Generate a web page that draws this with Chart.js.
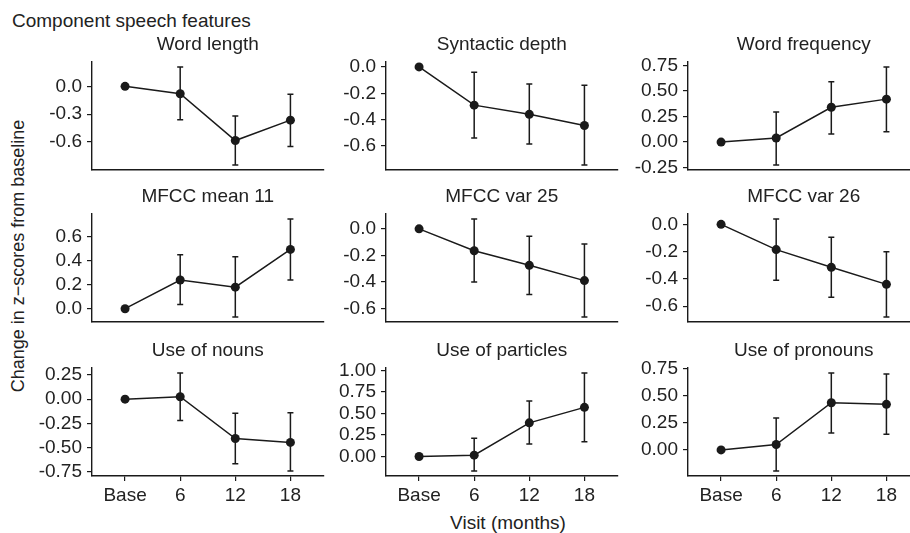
<!DOCTYPE html>
<html>
<head>
<meta charset="utf-8">
<script src="https://cdn.jsdelivr.net/npm/chart.js@4.4.1/dist/chart.umd.min.js"></script>
<style>
  html, body { margin: 0; padding: 0; background: #fff; }
  body { width: 910px; height: 533px; position: relative; overflow: hidden;
         font-family: 'Liberation Sans', Arial, sans-serif; color: #222; }
  canvas { position: absolute; }
  .lbl { position: absolute; font-size: 19px; line-height: 1; white-space: nowrap; }
</style>
</head>
<body>
<div class="lbl" style="left:12px; top:11px">Component speech features</div>
<div class="lbl" style="left:18px; top:256px; font-size:18px; transform: translate(-50%,-50%) rotate(-90deg)">Change in z−scores from baseline</div>
<div class="lbl" style="left:508px; top:522px; transform: translate(-50%,-50%)">Visit (months)</div>

<script>
// visits on the x axis
const visits = ['Base', '6', '12', '18'];

// Word length
const wordLengthMean = [0, -0.08, -0.585, -0.365];
const wordLengthLo = [null, -0.36, -0.85, -0.65];
const wordLengthHi = [null, 0.21, -0.32, -0.085];
const wordLengthTicks = ['0.0', '-0.3', '-0.6'];

// Syntactic depth
const syntacticMean = [0, -0.29, -0.36, -0.445];
const syntacticLo = [null, -0.54, -0.585, -0.745];
const syntacticHi = [null, -0.04, -0.13, -0.14];
const syntacticTicks = ['0.0', '-0.2', '-0.4', '-0.6'];

// Word frequency
const wordFreqMean = [0, 0.04, 0.34, 0.42];
const wordFreqLo = [null, -0.225, 0.08, 0.10];
const wordFreqHi = [null, 0.295, 0.59, 0.735];
const wordFreqTicks = ['0.75', '0.50', '0.25', '0.00', '-0.25'];

// MFCC mean 11
const mfccMean11Mean = [0, 0.24, 0.18, 0.495];
const mfccMean11Lo = [null, 0.035, -0.07, 0.24];
const mfccMean11Hi = [null, 0.45, 0.435, 0.75];
const mfccMean11Ticks = ['0.0', '0.2', '0.4', '0.6'];

// MFCC var 25
const mfccVar25Mean = [0, -0.165, -0.275, -0.39];
const mfccVar25Lo = [null, -0.40, -0.495, -0.665];
const mfccVar25Hi = [null, 0.075, -0.055, -0.115];
const mfccVar25Ticks = ['0.0', '-0.2', '-0.4', '-0.6'];

// MFCC var 26
const mfccVar26Mean = [0, -0.185, -0.315, -0.44];
const mfccVar26Lo = [null, -0.41, -0.535, -0.68];
const mfccVar26Hi = [null, 0.04, -0.095, -0.2];
const mfccVar26Ticks = ['0.0', '-0.2', '-0.4', '-0.6'];

// Use of nouns
const nounsMean = [0, 0.025, -0.405, -0.445];
const nounsLo = [null, -0.22, -0.665, -0.74];
const nounsHi = [null, 0.27, -0.145, -0.14];
const nounsTicks = ['0.25', '0.00', '-0.25', '-0.50', '-0.75'];

// Use of particles
const particlesMean = [0, 0.015, 0.39, 0.57];
const particlesLo = [null, -0.17, 0.145, 0.17];
const particlesHi = [null, 0.21, 0.645, 0.97];
const particlesTicks = ['1.00', '0.75', '0.50', '0.25', '0.00'];

// Use of pronouns
const pronounsMean = [0, 0.05, 0.435, 0.42];
const pronounsLo = [null, -0.195, 0.155, 0.145];
const pronounsHi = [null, 0.295, 0.71, 0.70];
const pronounsTicks = ['0.75', '0.50', '0.25', '0.00'];

const panels = [
  {title: 'Word length', mean: wordLengthMean, lo: wordLengthLo, hi: wordLengthHi, ticks: wordLengthTicks},
  {title: 'Syntactic depth', mean: syntacticMean, lo: syntacticLo, hi: syntacticHi, ticks: syntacticTicks},
  {title: 'Word frequency', mean: wordFreqMean, lo: wordFreqLo, hi: wordFreqHi, ticks: wordFreqTicks},
  {title: 'MFCC mean 11', mean: mfccMean11Mean, lo: mfccMean11Lo, hi: mfccMean11Hi, ticks: mfccMean11Ticks},
  {title: 'MFCC var 25', mean: mfccVar25Mean, lo: mfccVar25Lo, hi: mfccVar25Hi, ticks: mfccVar25Ticks},
  {title: 'MFCC var 26', mean: mfccVar26Mean, lo: mfccVar26Lo, hi: mfccVar26Hi, ticks: mfccVar26Ticks},
  {title: 'Use of nouns', mean: nounsMean, lo: nounsLo, hi: nounsHi, ticks: nounsTicks},
  {title: 'Use of particles', mean: particlesMean, lo: particlesLo, hi: particlesHi, ticks: particlesTicks},
  {title: 'Use of pronouns', mean: pronounsMean, lo: pronounsLo, hi: pronounsHi, ticks: pronounsTicks}
];

const INK = '#1a1a1a';
const TXT = '#222';
Chart.defaults.font.family = "'Liberation Sans', Arial, sans-serif";
Chart.defaults.font.size = 19;
Chart.defaults.color = TXT;

// vertical error bars with small caps, drawn under the points
const errorBarPlugin = {
  id: 'errorBars',
  beforeDatasetsDraw(chart) {
    const ctx = chart.ctx;
    const xs = chart.scales.x, ys = chart.scales.y;
    const ds = chart.data.datasets[0];
    ctx.save();
    ctx.strokeStyle = INK;
    ctx.lineWidth = 1.5;
    ds.errLo.forEach((lo, i) => {
      const hi = ds.errHi[i];
      if (lo == null || hi == null) return;
      const px = xs.getPixelForValue(i + 1);
      const yLo = ys.getPixelForValue(lo);
      const yHi = ys.getPixelForValue(hi);
      ctx.beginPath();
      ctx.moveTo(px, yLo); ctx.lineTo(px, yHi);
      ctx.moveTo(px - 3, yLo); ctx.lineTo(px + 3, yLo);
      ctx.moveTo(px - 3, yHi); ctx.lineTo(px + 3, yHi);
      ctx.stroke();
    });
    ctx.restore();
  }
};

// grid placement of the panels (y axis x position, plot top)
const colX = [92, 386, 688];
const rowTop = [62, 214, 368];
const Y_W = 80, PLOT_W = 232, PLOT_H = 108, TOP_H = 32;

panels.forEach((p, k) => {
  const col = k % 3, row = Math.floor(k / 3);
  const bottomRow = row === 2;
  const xH = bottomRow ? 36 : 0;
  const padB = bottomRow ? 4 : 18;

  const cv = document.createElement('canvas');
  cv.width = Y_W + PLOT_W + 4;
  cv.height = TOP_H + PLOT_H + xH + padB;
  cv.style.left = (colX[col] - Y_W) + 'px';
  cv.style.top = (rowTop[row] - TOP_H) + 'px';
  document.body.appendChild(cv);

  // ggplot-like 5% expansion of the data range
  const all = p.mean.concat(p.lo, p.hi).filter(v => v != null);
  const dMin = Math.min(...all), dMax = Math.max(...all);
  const ext = (dMax - dMin) * 0.05;

  new Chart(cv, {
    type: 'line',
    data: {
      datasets: [{
        data: p.mean.map((v, i) => ({x: i + 1, y: v})),
        errLo: p.lo,
        errHi: p.hi,
        borderColor: INK,
        borderWidth: 1.5,
        pointRadius: 4.5,
        pointBackgroundColor: INK,
        pointBorderWidth: 0,
        tension: 0
      }]
    },
    options: {
      responsive: false,
      animation: false,
      events: [],
      layout: {padding: {left: 0, right: 4, top: 0, bottom: padB}},
      plugins: {
        legend: {display: false},
        tooltip: {enabled: false},
        title: {
          display: true,
          text: p.title,
          fullSize: false,
          color: TXT,
          font: {size: 19, weight: 'normal'},
          padding: {top: 3.1, bottom: 6.1}
        }
      },
      scales: {
        x: {
          type: 'linear',
          min: 0.4,
          max: 4.6,
          afterBuildTicks: s => { s.ticks = visits.map((_, i) => ({value: i + 1})); },
          afterFit: s => { s.height = xH; },
          ticks: {
            display: bottomRow,
            padding: 3,
            color: TXT,
            callback: v => visits[v - 1]
          },
          grid: {display: bottomRow, drawOnChartArea: false, drawTicks: true, tickLength: 5, color: INK, lineWidth: 1.2},
          border: {display: true, color: INK, width: 1.4}
        },
        y: {
          type: 'linear',
          min: dMin - ext,
          max: dMax + ext,
          afterBuildTicks: s => { s.ticks = p.ticks.map(t => ({value: Number(t)})); },
          afterFit: s => { s.width = Y_W; },
          ticks: {
            padding: 5,
            color: TXT,
            callback: (v, i) => p.ticks[i]
          },
          grid: {drawOnChartArea: false, drawTicks: true, tickLength: 5, color: INK, lineWidth: 1.2},
          border: {display: true, color: INK, width: 1.4}
        }
      }
    },
    plugins: [errorBarPlugin]
  });
});
</script>
</body>
</html>
